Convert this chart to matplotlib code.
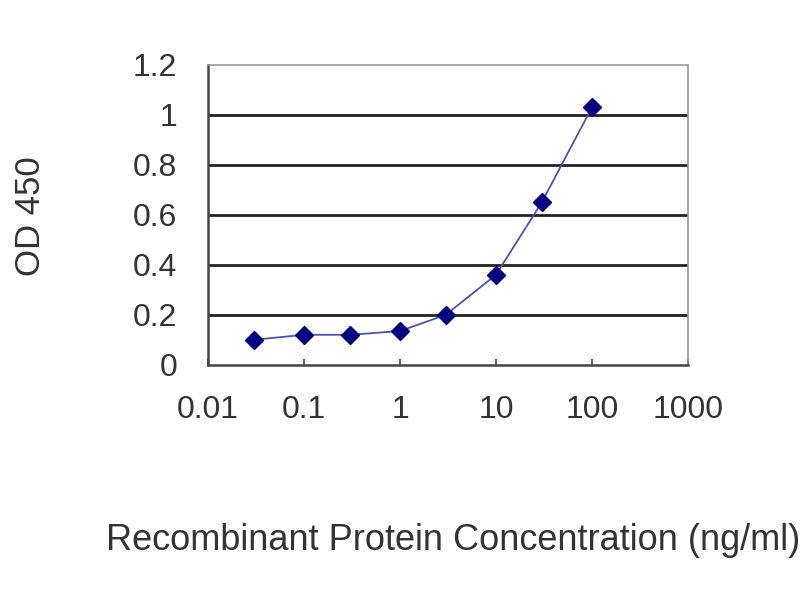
import matplotlib
matplotlib.use('Agg')
import matplotlib.pyplot as plt
from matplotlib.ticker import FixedLocator, NullLocator

# 数据
conc = [0.03, 0.1, 0.3, 1, 3, 10, 30, 100]
od450 = [0.10, 0.12, 0.12, 0.135, 0.20, 0.36, 0.65, 1.03]
x_ticks = [0.01, 0.1, 1, 10, 100, 1000]
x_labels = ['0.01', '0.1', '1', '10', '100', '1000']
y_ticks = [0, 0.2, 0.4, 0.6, 0.8, 1, 1.2]
y_labels = ['0', '0.2', '0.4', '0.6', '0.8', '1', '1.2']

plt.rcParams['font.family'] = ['Liberation Sans', 'DejaVu Sans']

fig = plt.figure(figsize=(8, 6), dpi=100)
ax = fig.add_axes([0.26, 0.392, 0.60, 0.50])

ax.plot(conc, od450, color='#5050b0', lw=1.3, marker='D', ms=9,
        markerfacecolor='#000080', markeredgecolor='#000080', zorder=3)

ax.set_xscale('log')
ax.set_xlim(0.01, 1000)
ax.set_ylim(0, 1.2)
ax.xaxis.set_major_locator(FixedLocator(x_ticks))
ax.xaxis.set_minor_locator(NullLocator())
ax.set_xticklabels(x_labels)
ax.set_yticks(y_ticks)
ax.set_yticklabels(y_labels)

for y in y_ticks[1:-1]:
    ax.axhline(y, color='#222222', lw=2.0, zorder=1)

for s in ['top', 'right']:
    ax.spines[s].set_color('#999999')
    ax.spines[s].set_linewidth(1.2)
for s in ['left', 'bottom']:
    ax.spines[s].set_color('#444444')
    ax.spines[s].set_linewidth(1.8)

ax.tick_params(axis='both', direction='in', length=4, width=1.2,
               colors='#444444', labelcolor='#333333', labelsize=23)
ax.tick_params(axis='x', pad=22)
ax.tick_params(axis='y', length=0, pad=22)

fig.text(0.566, 0.10, 'Recombinant Protein Concentration (ng/ml)',
         ha='center', va='center', fontsize=26, color='#333333')
fig.text(0.038, 0.64, 'OD 450', rotation=90, ha='center', va='center',
         fontsize=25, color='#333333')

fig.savefig('out.png', dpi=100)
